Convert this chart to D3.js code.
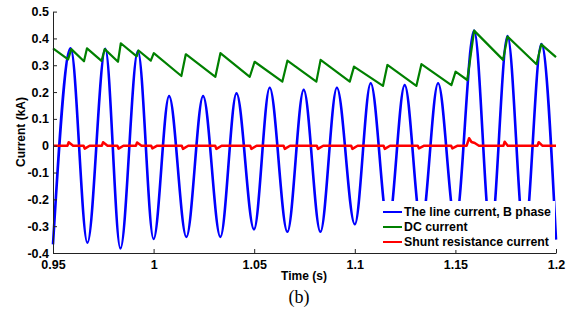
<!DOCTYPE html>
<html>
<head>
<meta charset="utf-8">
<script src="https://cdn.jsdelivr.net/npm/d3@7"></script>
<style>
  body { margin: 0; background: #fff; }
  text { font-family: "Liberation Sans", Arial, sans-serif; }
</style>
</head>
<body>
<svg id="chart" width="573" height="313"></svg>
<script>
// axis ticks and labels
var xTicks = [0.95, 1, 1.05, 1.1, 1.15, 1.2];
var xTickLabels = ["0.95", "1", "1.05", "1.1", "1.15", "1.2"];
var yTicks = [-0.4, -0.3, -0.2, -0.1, 0, 0.1, 0.2, 0.3, 0.4, 0.5];
var yTickLabels = ["-0.4", "-0.3", "-0.2", "-0.1", "0", "0.1", "0.2", "0.3", "0.4", "0.5"];

var seriesNames = ["The line current, B phase", "DC current", "Shunt resistance current"];

// line current, B phase: peaks and troughs [time s, kA]
var lineCurrent = [
    [0.9500, -0.368], [0.9588, 0.363], [0.9671, -0.362], [0.9760, 0.361],
    [0.9835, -0.383], [0.9922, 0.353], [1.0000, -0.348], [1.0077, 0.185],
    [1.0163, -0.340], [1.0246, 0.185], [1.0332, -0.340], [1.0412, 0.195],
    [1.0499, -0.312], [1.0577, 0.216], [1.0665, -0.321], [1.0746, 0.208],
    [1.0829, -0.321], [1.0911, 0.216], [1.1000, -0.293], [1.1079, 0.233],
    [1.1166, -0.300], [1.1248, 0.226], [1.1331, -0.300], [1.1414, 0.233],
    [1.1500, -0.290], [1.1593, 0.429], [1.1676, -0.330], [1.1759, 0.409],
    [1.1843, -0.345], [1.1927, 0.379], [1.2000, -0.350]
];

// DC current: sawtooth corners [time s, kA]
var dcCurrent = [
    [0.9500, 0.363], [0.9575, 0.322], [0.9591, 0.360], [0.9654, 0.315],
    [0.9669, 0.363], [0.9741, 0.316], [0.9757, 0.360], [0.9823, 0.313],
    [0.9837, 0.382], [0.9916, 0.333], [0.9925, 0.355], [0.9986, 0.317],
    [1.0001, 0.345], [1.0138, 0.260], [1.0160, 0.341], [1.0307, 0.257],
    [1.0332, 0.345], [1.0478, 0.257], [1.0502, 0.313], [1.0640, 0.239],
    [1.0665, 0.317], [1.0809, 0.239], [1.0830, 0.320], [1.0975, 0.239],
    [1.0996, 0.295], [1.1140, 0.223], [1.1162, 0.301], [1.1306, 0.223],
    [1.1331, 0.304], [1.1480, 0.226], [1.1501, 0.276], [1.1559, 0.245],
    [1.1593, 0.429], [1.1737, 0.320], [1.1759, 0.407], [1.1903, 0.304],
    [1.1927, 0.378], [1.2000, 0.330]
];

// shunt resistance current: flat with small spikes [time s, kA]
var shuntCurrent = [
    [0.9500, 0], [0.9572, 0], [0.9578, 0.013], [0.9600, 0],
    [0.9652, 0], [0.9658, -0.011], [0.9682, 0],
    [0.9743, 0], [0.9749, 0.013], [0.9771, 0],
    [0.9820, 0], [0.9826, -0.011], [0.9850, 0],
    [0.9912, 0], [0.9918, 0.012], [0.9940, 0],
    [0.9988, 0], [0.9994, -0.010], [1.0018, 0],
    [1.0140, 0], [1.0146, -0.012], [1.0172, 0],
    [1.0306, 0], [1.0312, -0.012], [1.0338, 0],
    [1.0480, 0], [1.0486, -0.012], [1.0512, 0],
    [1.0646, 0], [1.0652, -0.012], [1.0678, 0],
    [1.0811, 0], [1.0817, -0.012], [1.0843, 0],
    [1.0982, 0], [1.0988, -0.012], [1.1014, 0],
    [1.1143, 0], [1.1149, -0.012], [1.1175, 0],
    [1.1313, 0], [1.1319, -0.010], [1.1345, 0],
    [1.1479, 0], [1.1485, -0.010], [1.1511, 0],
    [1.1556, 0], [1.1568, 0.028], [1.1580, 0.014], [1.1596, 0.010], [1.1617, 0],
    [1.1739, 0], [1.1745, 0.015], [1.1760, 0],
    [1.1908, 0], [1.1914, 0.013], [1.1932, 0],
    [1.2000, 0]
];

var colors = ["#0000ff", "#008000", "#ff0000"];

var svg = d3.select("#chart");

var x = d3.scaleLinear().domain([0.95, 1.2]).range([53, 556]);
var y = d3.scaleLinear().domain([-0.4, 0.5]).range([253, 11.6]);

var lineSmooth = d3.line()
    .x(function (d) {return x(d[0]);})
    .y(function (d) {return y(d[1]);})
    .curve(d3.curveMonotoneX);
var lineStraight = d3.line()
    .x(function (d) {return x(d[0]);})
    .y(function (d) {return y(d[1]);});

// series, in MATLAB plot order
svg.append("path")
    .attr("d", lineSmooth(lineCurrent))
    .attr("fill", "none")
    .attr("stroke", colors[0])
    .attr("stroke-width", 2.6)
    .attr("stroke-linejoin", "round");
svg.append("path")
    .attr("d", lineStraight(dcCurrent))
    .attr("fill", "none")
    .attr("stroke", colors[1])
    .attr("stroke-width", 2.2)
    .attr("stroke-linejoin", "round");
svg.append("path")
    .attr("d", lineStraight(shuntCurrent))
    .attr("fill", "none")
    .attr("stroke", colors[2])
    .attr("stroke-width", 2.5)
    .attr("stroke-linejoin", "round");

// axes (box off, ticks pointing inward)
var xAxis = svg.append("g")
    .attr("transform", "translate(0,253)")
    .call(d3.axisBottom(x)
        .tickValues(xTicks)
        .tickFormat(function (d, i) {return xTickLabels[i];})
        .tickSizeInner(-4)
        .tickSizeOuter(0)
        .tickPadding(7));
var yAxis = svg.append("g")
    .attr("transform", "translate(53,0)")
    .call(d3.axisLeft(y)
        .tickValues(yTicks)
        .tickFormat(function (d, i) {return yTickLabels[i];})
        .tickSizeInner(-4)
        .tickSizeOuter(0)
        .tickPadding(4));

svg.selectAll(".domain, .tick line").attr("stroke", "#222");
svg.selectAll(".tick text")
    .attr("fill", "#000")
    .style("font-family", "'Liberation Sans', Arial, sans-serif")
    .style("font-weight", "bold")
    .style("font-size", "12.5px");

svg.append("text")
    .attr("x", 304)
    .attr("y", 280)
    .attr("text-anchor", "middle")
    .style("font-weight", "bold")
    .style("font-size", "12px")
    .text("Time (s)");

svg.append("text")
    .attr("transform", "translate(25,132) rotate(-90)")
    .attr("text-anchor", "middle")
    .style("font-weight", "bold")
    .style("font-size", "12px")
    .text("Current (kA)");

svg.append("text")
    .attr("x", 299)
    .attr("y", 303)
    .attr("text-anchor", "middle")
    .style("font-family", "'Liberation Serif', 'Times New Roman', serif")
    .style("font-size", "18px")
    .text("(b)");

// legend box, covers the lower right of the plot
var legend = svg.append("g").attr("transform", "translate(380,201)");
legend.append("rect")
    .attr("width", 175)
    .attr("height", 49)
    .attr("fill", "#fff");
var entry = legend.selectAll(".entry")
    .data(seriesNames)
    .enter().append("g")
    .attr("class", "entry")
    .attr("transform", function (d, i) {return "translate(0," + (11 + i * 15) + ")";});
entry.append("line")
    .attr("x1", 3)
    .attr("x2", 22)
    .attr("stroke", function (d, i) {return colors[i];})
    .attr("stroke-width", 2);
entry.append("text")
    .attr("x", 24)
    .attr("dy", "0.36em")
    .style("font-weight", "bold")
    .style("font-size", "12.3px")
    .text(function (d) {return d;});
</script>
</body>
</html>
